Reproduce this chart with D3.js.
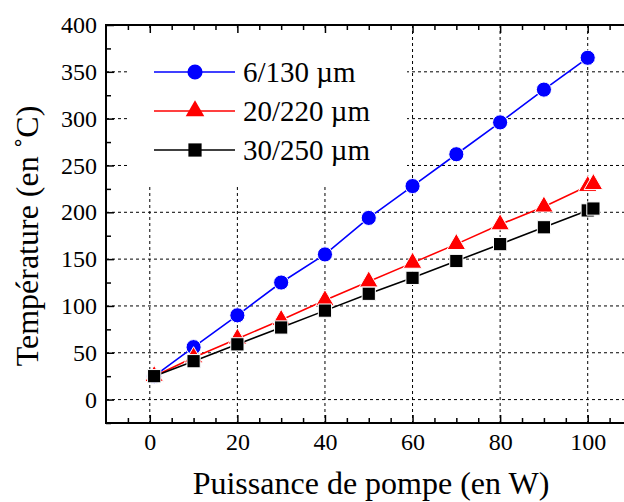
<!DOCTYPE html>
<html><head><meta charset="utf-8">
<script src="https://cdn.jsdelivr.net/npm/d3@7"></script>
<style>
html,body{margin:0;padding:0;background:#fff;}
svg{display:block;}
</style></head>
<body>
<svg id="c" width="624" height="502"></svg>
<script>
// ---- data ----
const powerBlue = [1, 10, 20, 30, 40, 50, 60, 70, 80, 90, 100];
const powerRB   = [1, 10, 20, 30, 40, 50, 60, 70, 80, 90, 100, 101.3];
const temp6_130   = [25, 56, 90, 125, 155, 194, 228, 262, 296, 331, 365];
const temp20_220  = [25, 45, 65, 85, 106, 126, 146, 166, 187, 206, 228, 230];
const temp30_250  = [25, 41, 59, 77, 95, 113, 130, 148, 166, 184, 202, 204];
const seriesNames = ["6/130 µm", "20/220 µm", "30/250 µm"];
const xTicks = [0, 20, 40, 60, 80, 100];
const yTicks = [0, 50, 100, 150, 200, 250, 300, 350, 400];
const xLabel = "Puissance de pompe (en W)";
const yLabel = "Température (en ˚C)";

const series = [
  {name: seriesNames[0], xs: powerBlue, ys: temp6_130, color: "#0000ff", sym: d3.symbolCircle, size: 180},
  {name: seriesNames[1], xs: powerRB, ys: temp20_220, color: "#ff0000", sym: d3.symbolTriangle, size: 150},
  {name: seriesNames[2], xs: powerRB, ys: temp30_250, color: "#000000", sym: d3.symbolSquare, size: 175}
];

const svg = d3.select("#c");
const L = 106, R = 631.5, T = 25, B = 423;
const x = d3.scaleLinear().domain([-10, 110]).range([L, R]);
const y = d3.scaleLinear().domain([-25, 400]).range([B, T]);
const FF = "'Liberation Serif'";

// grid
const grid = svg.append("g").attr("stroke", "#000").attr("stroke-width", 1).attr("stroke-dasharray", "3,3");
xTicks.forEach(v => grid.append("line").attr("x1", x(v)).attr("x2", x(v)).attr("y1", T).attr("y2", B));
yTicks.filter(v => v < 400).forEach(v => grid.append("line").attr("x1", L).attr("x2", R).attr("y1", y(v)).attr("y2", y(v)));

// legend background (covers grid)
svg.append("rect").attr("x", 127).attr("y", 28).attr("width", 280).attr("height", 159).attr("fill", "#fff");

// axes with inward ticks
const fs = 24;
function styleAxis(g) {
  g.attr("font-family", null).attr("font-size", null);
  g.select(".domain").remove();
  g.selectAll("line").attr("stroke", "#000").attr("stroke-width", 1.5);
  g.selectAll("text").style("font-size", fs + "px").attr("fill", "#000").style("font-family", FF);
}
const xMinor = d3.range(-5, 110, 5).filter(v => v % 20 !== 0);
const yMinor = d3.range(-25, 400, 25).filter(v => v % 50 !== 0);

// bottom
svg.append("g").attr("transform", `translate(0,${B})`)
  .call(d3.axisBottom(x).tickValues(xTicks).tickSizeInner(-8).tickSizeOuter(0).tickPadding(10).tickFormat(d3.format("d")))
  .call(styleAxis);
svg.append("g").attr("transform", `translate(0,${B})`)
  .call(d3.axisBottom(x).tickValues(xMinor).tickSizeInner(-5).tickSizeOuter(0).tickFormat(""))
  .call(styleAxis);
// top
svg.append("g").attr("transform", `translate(0,${T})`)
  .call(d3.axisTop(x).tickValues(xTicks).tickSizeInner(-8).tickSizeOuter(0).tickFormat(""))
  .call(styleAxis);
svg.append("g").attr("transform", `translate(0,${T})`)
  .call(d3.axisTop(x).tickValues(xMinor).tickSizeInner(-5).tickSizeOuter(0).tickFormat(""))
  .call(styleAxis);
// left
svg.append("g").attr("transform", `translate(${L},0)`)
  .call(d3.axisLeft(y).tickValues(yTicks).tickSizeInner(-8).tickSizeOuter(0).tickPadding(9).tickFormat(d3.format("d")))
  .call(styleAxis);
svg.append("g").attr("transform", `translate(${L},0)`)
  .call(d3.axisLeft(y).tickValues(yMinor).tickSizeInner(-5).tickSizeOuter(0).tickFormat(""))
  .call(styleAxis);

// frame
const frame = svg.append("g").attr("stroke", "#000").attr("stroke-width", 2).attr("fill", "none");
frame.append("line").attr("x1", L).attr("x2", R).attr("y1", T).attr("y2", T);
frame.append("line").attr("x1", L).attr("x2", R).attr("y1", B).attr("y2", B);
frame.append("line").attr("x1", L).attr("x2", L).attr("y1", T - 1).attr("y2", B + 1);
frame.append("line").attr("x1", R).attr("x2", R).attr("y1", T).attr("y2", B);

// series
const line = d3.line().x(d => x(d[0])).y(d => y(d[1]));
series.forEach(s => {
  const pts = s.xs.map((v, i) => [v, s.ys[i]]);
  svg.append("path").datum(pts).attr("d", line).attr("fill", "none").attr("stroke", s.color).attr("stroke-width", 1.6);
  svg.append("g").selectAll("path").data(pts).join("path")
    .attr("transform", d => `translate(${x(d[0])},${y(d[1])})`)
    .attr("d", d3.symbol().type(s.sym).size(s.size))
    .attr("fill", s.color).attr("stroke", "#fff").attr("stroke-width", 1);
});

// legend
const legY = [72, 111, 150];
series.forEach((s, i) => {
  const g = svg.append("g").attr("transform", `translate(0,${legY[i]})`);
  g.append("line").attr("x1", 154).attr("x2", 235).attr("y1", 0).attr("y2", 0).attr("stroke", s.color).attr("stroke-width", 1.6);
  g.append("path").attr("transform", "translate(195,0)").attr("d", d3.symbol().type(s.sym).size(s.size)).attr("fill", s.color);
  g.append("text").attr("x", 243).attr("y", 10).style("font-size", "29px").style("font-family", FF).attr("fill", "#000").text(s.name);
});

// axis labels
svg.append("text").attr("x", 371).attr("y", 494).attr("text-anchor", "middle").style("font-size", "32px").style("font-family", FF).attr("fill", "#000").text(xLabel);
svg.append("text").attr("transform", "translate(38,236) rotate(-90)").attr("text-anchor", "middle").style("font-size", "32px").style("font-family", FF).attr("fill", "#000").text(yLabel);
</script>
</body></html>
